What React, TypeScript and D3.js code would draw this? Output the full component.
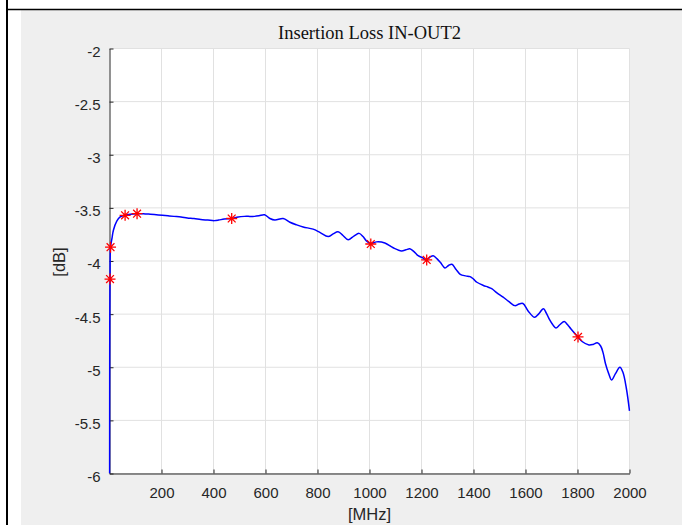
import React, { useEffect, useRef } from "react";
import * as d3 from "d3";

// Insertion loss trace
const freqMHz = [
  0, 1, 2, 4, 10, 15, 28, 41, 57, 80, 106, 130, 157, 180, 203, 225, 248, 275, 299, 325,
  351, 378, 403, 420, 441, 470, 495, 519, 540, 557, 575, 596, 617, 636, 668, 694, 720,
  745, 783, 809, 841, 860, 879, 898, 918, 940, 960, 975, 988, 1005, 1027, 1059, 1091,
  1123, 1140, 1155, 1170, 1187, 1205, 1217, 1232, 1245, 1260, 1273, 1290, 1305, 1317,
  1333, 1349, 1370, 1387, 1400, 1413, 1438, 1455, 1470, 1490, 1514, 1535, 1559, 1575,
  1590, 1610, 1635, 1650, 1669, 1680, 1692, 1705, 1717, 1732, 1749, 1762, 1775, 1800,
  1819, 1844, 1860, 1876, 1889, 1898, 1908, 1920, 1931, 1946, 1963, 1975, 1988, 2000,
];
const lossDb = [
  -6.0, -4.6, -4.17, -3.87, -3.78, -3.71, -3.625, -3.585, -3.57, -3.56, -3.555, -3.555,
  -3.56, -3.565, -3.57, -3.575, -3.58, -3.585, -3.595, -3.6, -3.61, -3.615, -3.62, -3.615,
  -3.605, -3.6, -3.585, -3.58, -3.58, -3.58, -3.575, -3.565, -3.6, -3.615, -3.6, -3.635,
  -3.66, -3.68, -3.7, -3.73, -3.77, -3.745, -3.725, -3.76, -3.8, -3.765, -3.74, -3.77,
  -3.81, -3.835, -3.82, -3.83, -3.875, -3.905, -3.895, -3.885, -3.91, -3.95, -3.97, -3.99,
  -3.965, -3.95, -3.98, -4.015, -4.065, -4.04, -4.03, -4.08, -4.125, -4.14, -4.147, -4.17,
  -4.2, -4.23, -4.245, -4.26, -4.3, -4.34, -4.38, -4.42, -4.405, -4.4, -4.47, -4.53, -4.5,
  -4.45, -4.49, -4.55, -4.6, -4.63, -4.6, -4.57, -4.6, -4.64, -4.71, -4.76, -4.79, -4.785,
  -4.77, -4.8, -4.86, -4.97, -5.06, -5.12, -5.06, -5.0, -5.05, -5.2, -5.41,
];

// red asterisk markers
const markerFreq = [2, 4, 60, 106, 470, 1005, 1220, 1802];
const markerLoss = [-4.17, -3.87, -3.57, -3.555, -3.6, -3.84, -3.99, -4.715];

const xTicks = [200, 400, 600, 800, 1000, 1200, 1400, 1600, 1800, 2000];
const yTicks = [-6, -5.5, -5, -4.5, -4, -3.5, -3, -2.5, -2];

const W = 682;
const H = 525;

export default function App() {
  const ref = useRef<SVGSVGElement>(null);

  useEffect(() => {
    if (!ref.current) return;
    const svg = d3.select(ref.current);
    svg.selectAll("*").remove();

    const x = d3.scaleLinear().domain([0, 2000]).range([109.5, 629.5]);
    const y = d3.scaleLinear().domain([-6, -2]).range([473.5, 48.5]);
    const sans = "'Liberation Sans', Arial, Helvetica, sans-serif";

    // page frame
    svg.append("rect").attr("width", W).attr("height", H).attr("fill", "#fff");
    svg.append("rect").attr("x", 21).attr("y", 10).attr("width", W - 21).attr("height", H - 10).attr("fill", "#efefef");
    svg.append("line").attr("x1", 6).attr("x2", W).attr("y1", 9.5).attr("y2", 9.5).attr("stroke", "#000").attr("stroke-width", 1.5);
    svg.append("line").attr("x1", 7).attr("x2", 7).attr("y1", 0).attr("y2", H).attr("stroke", "#000").attr("stroke-width", 2);

    // plot area
    svg
      .append("rect")
      .attr("x", x(0))
      .attr("y", y(-2))
      .attr("width", x(2000) - x(0))
      .attr("height", y(-6) - y(-2))
      .attr("fill", "#fff");

    // grid
    const grid = svg.append("g").attr("stroke", "#e1e1e1").attr("stroke-width", 1);
    grid
      .selectAll("line.v")
      .data(xTicks)
      .join("line")
      .attr("x1", (d) => x(d))
      .attr("x2", (d) => x(d))
      .attr("y1", y(-2))
      .attr("y2", y(-6));
    grid
      .selectAll("line.h")
      .data(yTicks)
      .join("line")
      .attr("x1", x(0))
      .attr("x2", x(2000))
      .attr("y1", (d) => y(d))
      .attr("y2", (d) => y(d));

    // axes
    const xAxis = svg
      .append("g")
      .attr("transform", `translate(0, ${y(-6)})`)
      .call(
        d3
          .axisBottom(x)
          .tickValues(xTicks)
          .tickFormat(d3.format("d"))
          .tickSizeInner(-4)
          .tickSizeOuter(0)
          .tickPadding(14)
      );
    const yAxis = svg
      .append("g")
      .attr("transform", `translate(${x(0)}, 0)`)
      .call(
        d3
          .axisLeft(y)
          .tickValues(yTicks)
          .tickFormat((d) => String(d))
          .tickSizeInner(-4)
          .tickSizeOuter(0)
          .tickPadding(9)
      );
    [xAxis, yAxis].forEach((g) => {
      g.select(".domain").attr("stroke", "#262626");
      g.selectAll(".tick line").attr("stroke", "#262626");
      g.selectAll(".tick text").attr("fill", "#262626").style("font-size", "15px").style("font-family", sans);
    });
    yAxis.selectAll(".tick text").attr("dy", "0.53em");

    // clip for the data
    svg
      .append("clipPath")
      .attr("id", "plotclip")
      .append("rect")
      .attr("x", x(0) - 1)
      .attr("y", y(-2))
      .attr("width", x(2000) - x(0) + 2)
      .attr("height", y(-6) - y(-2));

    const pts: [number, number][] = freqMHz.map((f, i) => [f, lossDb[i]]);
    const line = d3
      .line<[number, number]>()
      .x((d) => x(d[0]))
      .y((d) => y(d[1]))
      .curve(d3.curveCatmullRom.alpha(0.5));

    svg
      .append("path")
      .datum(pts)
      .attr("clip-path", "url(#plotclip)")
      .attr("fill", "none")
      .attr("stroke", "#0000ff")
      .attr("stroke-width", 1.5)
      .attr("d", line);

    // asterisk markers
    const r = 5.5;
    const q = 3.9;
    const star = `M${-r},0L${r},0M0,${-r}L0,${r}M${-q},${-q}L${q},${q}M${-q},${q}L${q},${-q}`;
    svg
      .append("g")
      .selectAll("path")
      .data(markerFreq)
      .join("path")
      .attr("transform", (d, i) => `translate(${x(d)}, ${y(markerLoss[i])})`)
      .attr("d", star)
      .attr("stroke", "#ff0000")
      .attr("stroke-width", 1.3)
      .attr("fill", "none");

    // labels
    svg
      .append("text")
      .attr("x", 369.5)
      .attr("y", 39)
      .attr("text-anchor", "middle")
      .style("font-family", "'Liberation Serif', 'Times New Roman', serif")
      .style("font-size", "18.5px")
      .attr("fill", "#111")
      .text("Insertion Loss IN-OUT2");

    svg
      .append("text")
      .attr("x", 369.5)
      .attr("y", 520)
      .attr("text-anchor", "middle")
      .style("font-family", sans)
      .style("font-size", "16.5px")
      .attr("fill", "#262626")
      .text("[MHz]");

    svg
      .append("text")
      .attr("transform", "translate(65, 262) rotate(-90)")
      .attr("text-anchor", "middle")
      .style("font-family", sans)
      .style("font-size", "16.5px")
      .attr("fill", "#262626")
      .text("[dB]");
  }, []);

  return (
    <svg
      ref={ref}
      width={W}
      height={H}
      style={{ position: "absolute", left: 0, top: 0, display: "block" }}
    />
  );
}
